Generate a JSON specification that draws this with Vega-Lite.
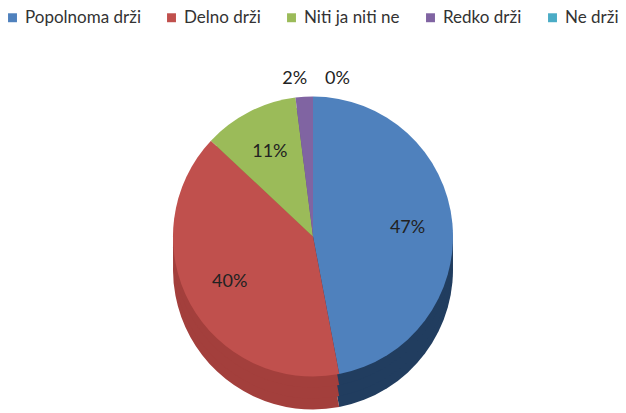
{
  "$schema": "https://vega.github.io/schema/vega-lite/v6.json",
  "width": 626,
  "height": 413,
  "autosize": {"type": "fit", "contains": "padding"},
  "padding": {"top": 9, "left": 4, "right": 4, "bottom": 0},
  "background": "white",
  "config": {"view": {"stroke": null}, "font": "Lato"},
  "data": {"values": [
    {"cat": "Popolnoma drži", "value": 47, "label": "47%", "order": 1},
    {"cat": "Delno drži", "value": 40, "label": "40%", "order": 2},
    {"cat": "Niti ja niti ne", "value": 11, "label": "11%", "order": 3},
    {"cat": "Redko drži", "value": 2, "label": "2%", "order": 4},
    {"cat": "Ne drži", "value": 0, "label": "0%", "order": 5}
  ]},
  "encoding": {
    "theta": {"field": "value", "type": "quantitative", "stack": true},
    "order": {"field": "order", "type": "ordinal"}
  },
  "layer": [
    {"mark": {"type": "arc", "outerRadius": 140, "yOffset": 41},
     "encoding": {"fill": {"field": "cat", "type": "nominal", "legend": null,
       "scale": {"domain": ["Popolnoma drži", "Delno drži", "Niti ja niti ne", "Redko drži", "Ne drži"],
                 "range": ["#213d5f", "#a33f3c", "#7a9443", "#5e4a7a", "#35849a"]}}}},
    {"mark": {"type": "arc", "outerRadius": 140, "yOffset": 30},
     "encoding": {"fill": {"field": "cat", "type": "nominal", "legend": null,
       "scale": {"domain": ["Popolnoma drži", "Delno drži", "Niti ja niti ne", "Redko drži", "Ne drži"],
                 "range": ["#213d5f", "#a33f3c", "#7a9443", "#5e4a7a", "#35849a"]}}}},
    {"mark": {"type": "arc", "outerRadius": 140, "yOffset": 19},
     "encoding": {"fill": {"field": "cat", "type": "nominal", "legend": null,
       "scale": {"domain": ["Popolnoma drži", "Delno drži", "Niti ja niti ne", "Redko drži", "Ne drži"],
                 "range": ["#213d5f", "#a33f3c", "#7a9443", "#5e4a7a", "#35849a"]}}}},
    {"mark": {"type": "arc", "outerRadius": 140, "yOffset": 8},
     "encoding": {"color": {"field": "cat", "type": "nominal",
       "scale": {"domain": ["Popolnoma drži", "Delno drži", "Niti ja niti ne", "Redko drži", "Ne drži"],
                 "range": ["#4f81bd", "#c0504d", "#9bbb59", "#8064a2", "#4bacc6"]},
       "legend": {"title": null, "orient": "top", "direction": "horizontal", "symbolType": "square",
                  "symbolSize": 80, "labelFontSize": 17, "labelColor": "#333333",
                  "columnPadding": 22, "labelFont": "Lato", "symbolStrokeWidth": 0, "labelOffset": 4}}}},
    {"mark": {"type": "text", "radius": 95, "yOffset": 8, "fontSize": 18, "color": "#222222"},
     "encoding": {"text": {"condition": {"test": "datum.value >= 5", "field": "label"}, "value": ""}}},
    {"mark": {"type": "text", "radius": 158, "yOffset": 8, "fontSize": 18, "color": "#222222", "align": "right", "dx": 4},
     "encoding": {"text": {"condition": {"test": "datum.value > 0 && datum.value < 5", "field": "label"}, "value": ""}}},
    {"mark": {"type": "text", "radius": 158, "yOffset": 8, "fontSize": 18, "color": "#222222", "align": "left", "dx": 12},
     "encoding": {"text": {"condition": {"test": "datum.value == 0", "field": "label"}, "value": ""}}}
  ],
  "resolve": {"scale": {"fill": "independent", "color": "independent"}, "legend": {"fill": "independent", "color": "independent"}}
}
